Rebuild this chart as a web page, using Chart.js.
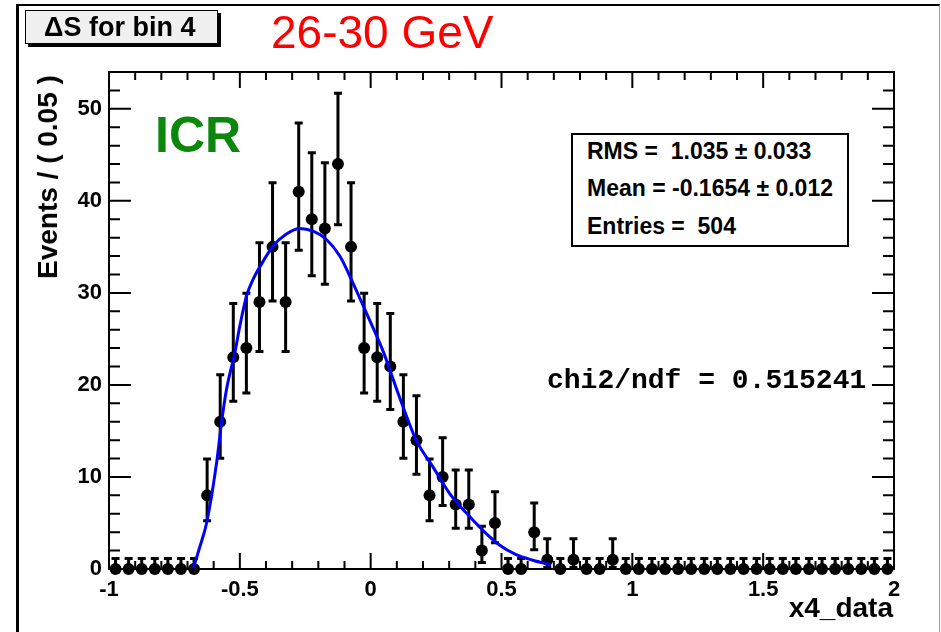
<!DOCTYPE html>
<html>
<head>
<meta charset="utf-8">
<script src="https://cdn.jsdelivr.net/npm/chart.js@4.4.0/dist/chart.umd.min.js"></script>
<style>
  body { margin: 0; background: #fff; }
  #wrap { position: relative; width: 941px; height: 632px; overflow: hidden; font-family: "Liberation Sans", Arial, sans-serif; }
  #myChart { position: absolute; left: 0; top: 0; }
  .txt { position: absolute; line-height: 1; white-space: pre; color: #000; }
  #outer { position: absolute; left: 16px; top: 4px; width: 920px; height: 700px; border-left: 3px solid #000; border-top: 2px solid #000; border-right: 1px solid #999; }
  #titleBox { position: absolute; left: 25px; top: 10px; width: 191px; height: 32px; background: #f0f0f0; border: 1px solid #000; box-shadow: 3px 3px 0 #000; }
  #stats { position: absolute; left: 571px; top: 133px; width: 274px; height: 110px; border: 2px solid #000; background: #fff; }
</style>
</head>
<body>
<div id="wrap">
  <div id="outer"></div>
  <canvas id="myChart" width="941" height="632"></canvas>
  <div id="titleBox"></div>
  <div class="txt" style="left:44px; top:14px; font-size:27px; font-weight:bold;">ΔS for bin 4</div>
  <div class="txt" style="left:271px; top:9px; font-size:46px; color:#ff0000;">26-30 GeV</div>
  <div class="txt" style="left:155px; top:110px; font-size:50px; font-weight:bold; color:#0b870b;">ICR</div>
  <div id="stats"></div>
  <div class="txt" style="left:587px; top:140px; font-size:23px; font-weight:bold;">RMS =  1.035 ± 0.033</div>
  <div class="txt" style="left:587px; top:177px; font-size:23px; font-weight:bold;">Mean = -0.1654 ± 0.012</div>
  <div class="txt" style="left:587px; top:215px; font-size:23px; font-weight:bold;">Entries =  504</div>
  <div class="txt" style="left:547px; top:367px; font-size:28px; font-weight:bold; font-family:'Liberation Mono', 'Courier New', monospace;">chi2/ndf = 0.515241</div>
  <div class="txt" style="left:48px; top:177px; font-size:28px; font-weight:bold; transform:translate(-50%,-50%) rotate(-90deg);">Events / ( 0.05 )</div>
  <div class="txt" style="left:693px; width:200px; text-align:right; top:594px; font-size:28px; font-weight:bold;">x4_data</div>
</div>
<script>
// histogram: 60 bins of 0.05 from -1 to 2
const binLow = -1
const binWidth = 0.05
const counts = [0,0,0,0,0,0,0,8,16,23,24,29,35,29,41,38,37,44,35,24,23,22,16,14,8,10,7,7,2,5,
                0,0,4,1,0,1,0,0,1,0,0,0,0,0,0,0,0,0,0,0,0,0,0,0,0,0,0,0,0,0]
// asymmetric (poisson) errors
const errLow = [0,0,0,0,0,0,0,2.77,3.96,4.78,4.88,5.37,5.89,5.37,6.38,6.14,6.06,6.61,5.89,4.88,4.78,4.67,3.96,3.70,2.77,3.11,2.58,2.58,1.29,2.16,
                0,0,1.91,0.83,0,0.83,0,0,0.83,0,0,0,0,0,0,0,0,0,0,0,0,0,0,0,0,0,0,0,0,0]
const errHigh = [1.15,1.15,1.15,1.15,1.15,1.15,1.15,3.94,5.10,5.86,5.97,6.44,6.97,6.44,7.46,7.22,7.14,7.68,6.97,5.97,5.86,5.76,5.10,4.83,3.94,4.26,3.77,3.77,2.64,3.38,
                 1.15,1.15,3.16,2.3,1.15,2.3,1.15,1.15,2.3,1.15,1.15,1.15,1.15,1.15,1.15,1.15,1.15,1.15,1.15,1.15,1.15,1.15,1.15,1.15,1.15,1.15,1.15,1.15,1.15,1.15]

// fitted curve (blue)
const fitX = [-0.69,-0.678,-0.653,-0.627,-0.589,-0.57,-0.551,-0.519,-0.5,-0.474,-0.449,-0.424,-0.373,-0.322,-0.271,-0.22,-0.169,-0.118,-0.068,-0.016,
              0.047,0.111,0.174,0.238,0.302,0.365,0.429,0.492,0.556,0.62,0.69]
const fitY = [0,0.25,2.4,5.0,11.5,15.9,19.5,23.5,26.4,29.7,31.5,32.8,35.1,36.4,37.0,36.7,35.8,34.0,31.1,27.8,
              23.7,18.6,14.0,11.1,8.2,6.1,4.2,2.6,1.55,0.95,0.45]

const xTicks = [-1,-0.5,0,0.5,1,1.5,2]
const yTicks = [0,10,20,30,40,50]
const yMax = 54

const binCenters = counts.map((c, i) => +(binLow + binWidth * (i + 0.5)).toFixed(3))

const errorBars = {
    id: 'errorBars',
    beforeDatasetDraw(chart, args) {
        if (args.index !== 1) return
        const ctx = chart.ctx, xs = chart.scales.x, ys = chart.scales.y
        ctx.save()
        ctx.strokeStyle = '#000'
        ctx.lineWidth = 3
        for (let i = 0; i < counts.length; i++) {
            const px = xs.getPixelForValue(binCenters[i])
            const lo = ys.getPixelForValue(counts[i] - errLow[i])
            const hi = ys.getPixelForValue(counts[i] + errHigh[i])
            ctx.beginPath()
            ctx.moveTo(px, lo); ctx.lineTo(px, hi)
            ctx.moveTo(px - 4, hi); ctx.lineTo(px + 4, hi)
            if (errLow[i] > 0) { ctx.moveTo(px - 4, lo); ctx.lineTo(px + 4, lo) }
            ctx.stroke()
        }
        ctx.restore()
    }
}

// ROOT style frame with ticks pointing inwards
const frameTicks = {
    id: 'frameTicks',
    afterDatasetsDraw(chart) {
        const ctx = chart.ctx, a = chart.chartArea, xs = chart.scales.x, ys = chart.scales.y
        ctx.save()
        ctx.strokeStyle = '#000'
        ctx.lineWidth = 2
        ctx.strokeRect(a.left, a.top, a.right - a.left, a.bottom - a.top)
        ctx.beginPath()
        for (let k = 0; k <= 30; k++) {
            const px = xs.getPixelForValue(-1 + k * 0.1)
            const len = k % 5 === 0 ? 16 : 8
            ctx.moveTo(px, a.bottom); ctx.lineTo(px, a.bottom - len)
            ctx.moveTo(px, a.top); ctx.lineTo(px, a.top + len)
        }
        for (let v = 0; v <= yMax; v += 2) {
            const py = ys.getPixelForValue(v)
            const len = v % 10 === 0 ? 22 : 11
            ctx.moveTo(a.left, py); ctx.lineTo(a.left + len, py)
            ctx.moveTo(a.right, py); ctx.lineTo(a.right - len, py)
        }
        ctx.stroke()
        ctx.restore()
    }
}

const tickFont = { family: '"Liberation Sans", Arial, sans-serif', size: 22, weight: 'bold' }

new Chart(document.getElementById('myChart'), {
    type: 'scatter',
    data: {
        datasets: [
            {
                type: 'line',
                data: fitX.map((x, i) => ({ x: x, y: fitY[i] })),
                borderColor: '#0000ff',
                borderWidth: 3,
                pointRadius: 0,
                cubicInterpolationMode: 'monotone',
                fill: false,
                order: 0
            },
            {
                data: binCenters.map((x, i) => ({ x: x, y: counts[i] })),
                backgroundColor: '#000',
                borderColor: '#000',
                pointRadius: 6,
                borderWidth: 0,
                clip: false,
                order: 1
            }
        ]
    },
    plugins: [errorBars, frameTicks],
    options: {
        responsive: false,
        animation: false,
        devicePixelRatio: 1,
        layout: { padding: { left: 0, top: 72, right: 47, bottom: 0 } },
        plugins: { legend: { display: false }, tooltip: { enabled: false } },
        scales: {
            x: {
                type: 'linear', min: -1, max: 2,
                afterBuildTicks: s => { s.ticks = xTicks.map(v => ({ value: v })) },
                afterFit: s => { s.height = 63 },
                grid: { display: false, drawTicks: false },
                border: { display: false },
                ticks: { font: tickFont, color: '#000', padding: 8, maxRotation: 0, autoSkip: false, callback: v => String(v) }
            },
            y: {
                type: 'linear', min: 0, max: yMax,
                afterBuildTicks: s => { s.ticks = yTicks.map(v => ({ value: v })) },
                afterFit: s => { s.width = 109 },
                grid: { display: false, drawTicks: false },
                border: { display: false },
                ticks: { font: tickFont, color: '#000', padding: 7, autoSkip: false, callback: v => String(v) }
            }
        }
    }
})
</script>
</body>
</html>
